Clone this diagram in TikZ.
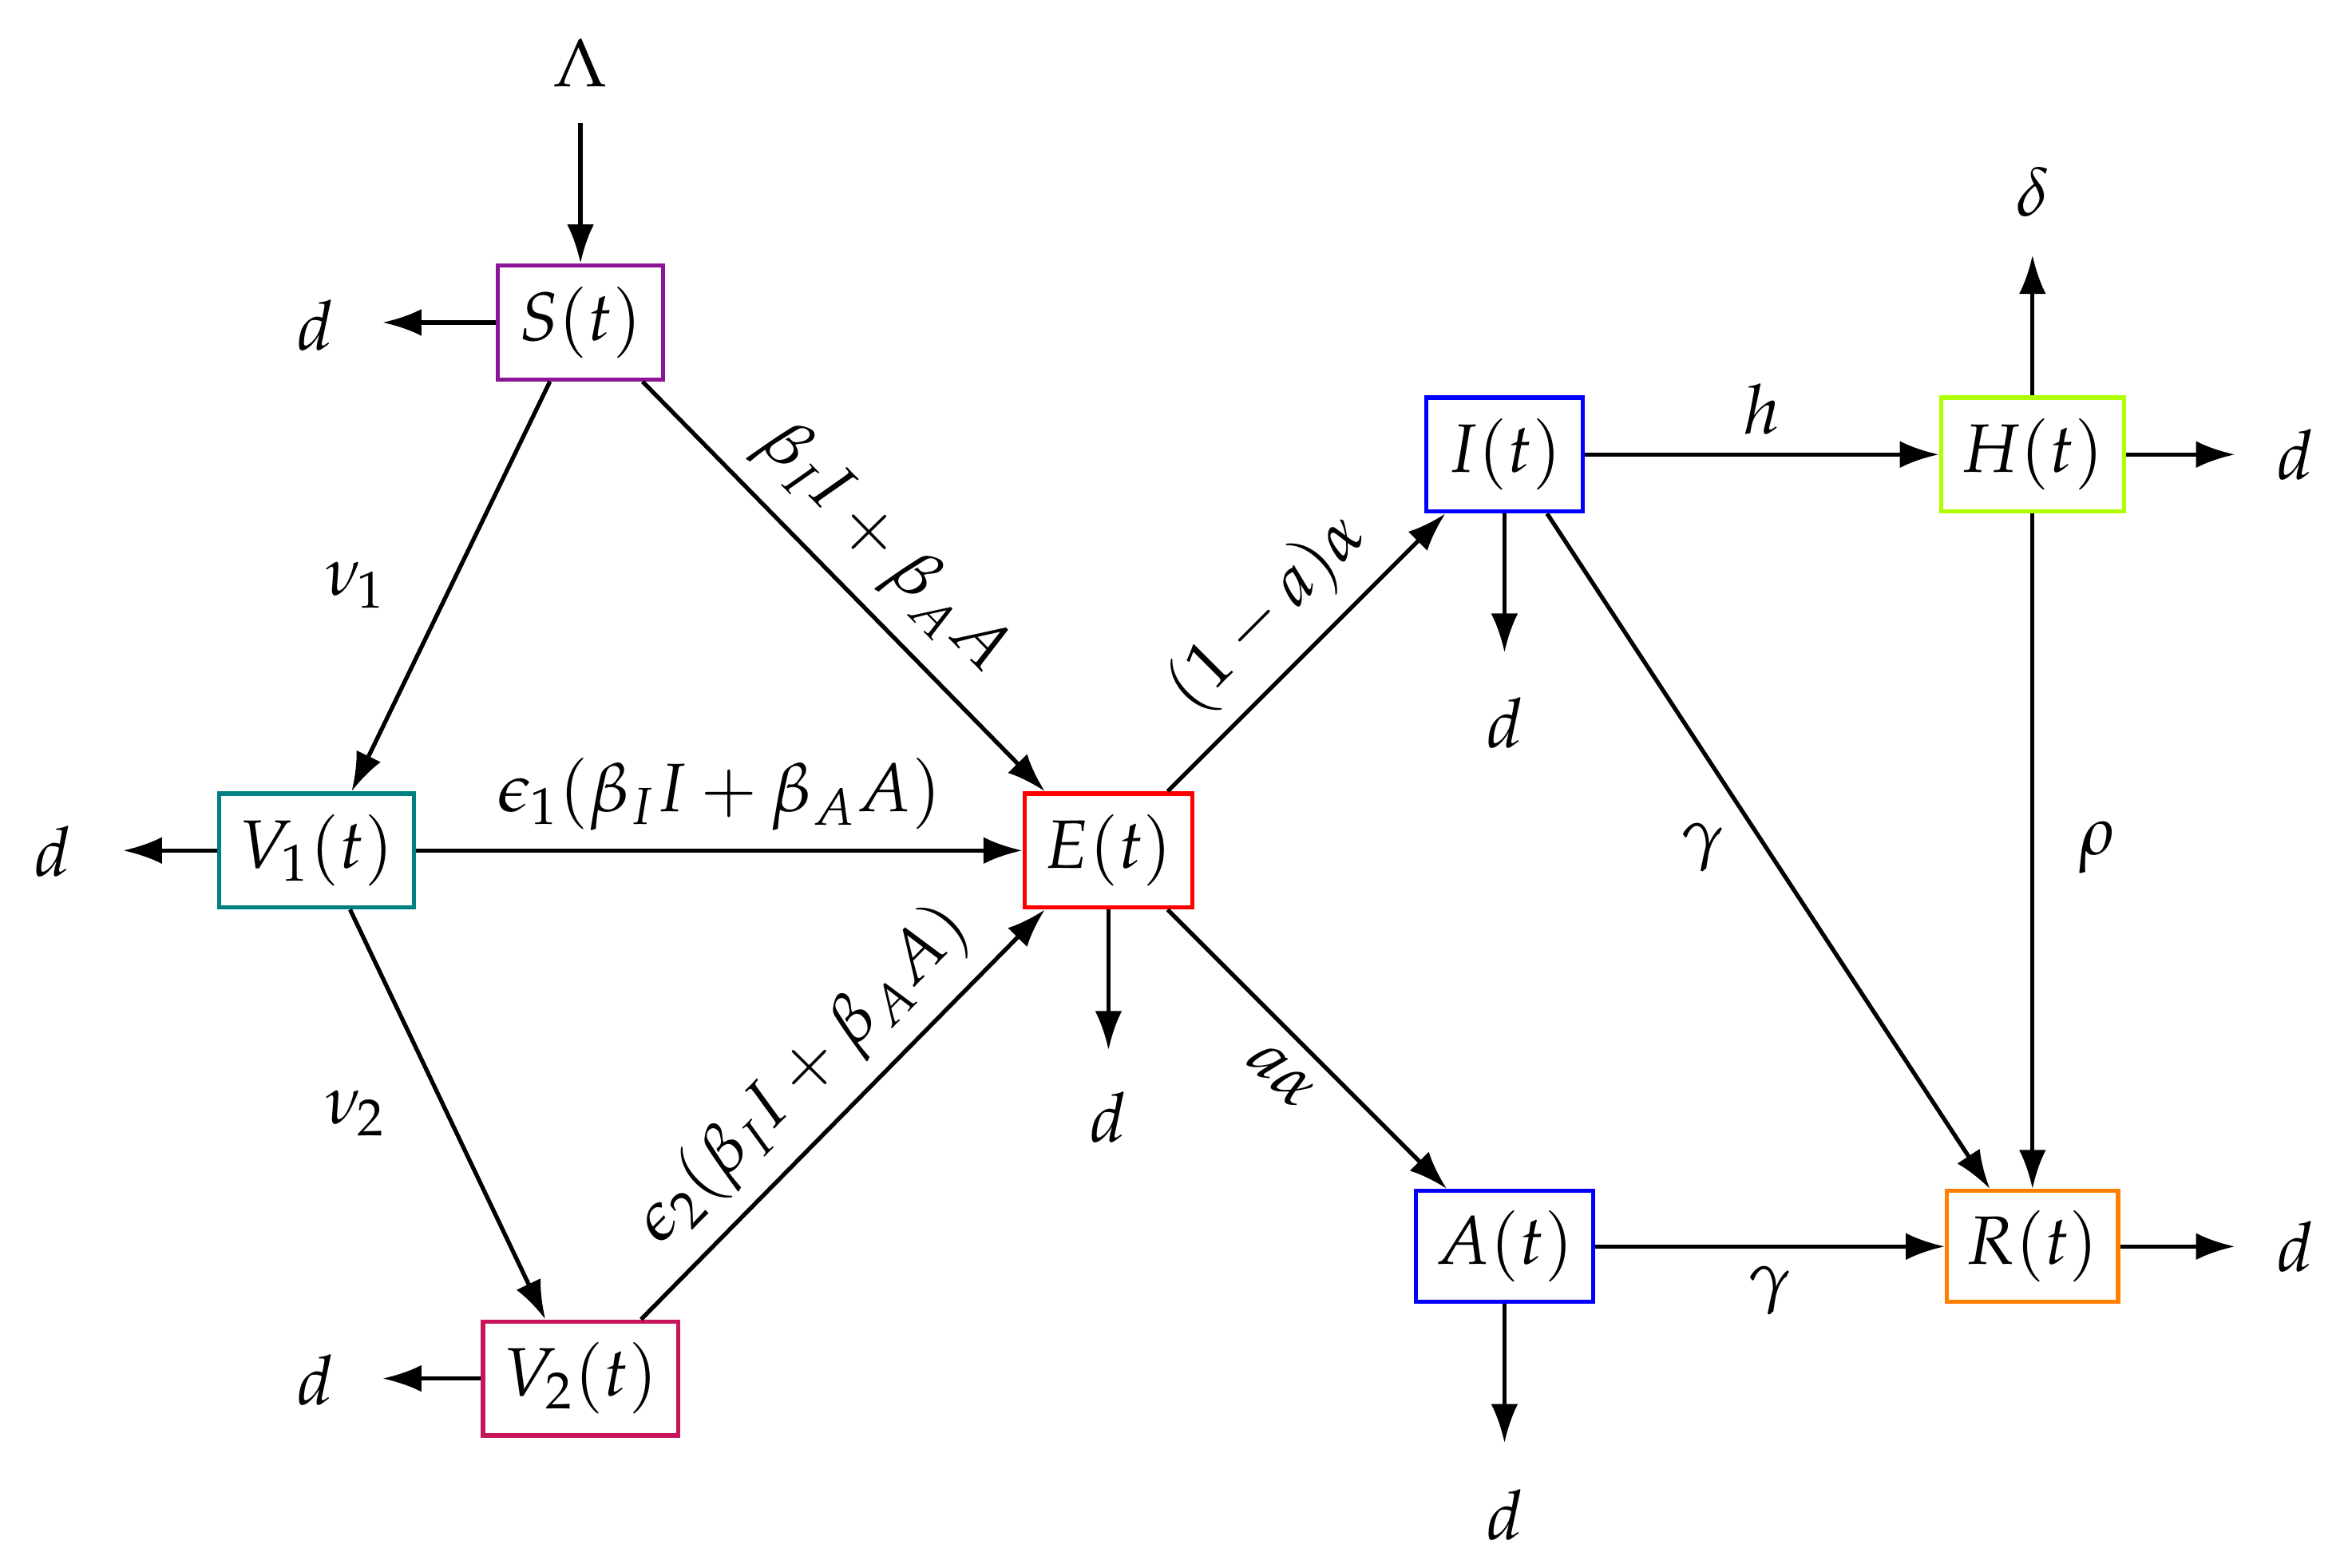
\documentclass[tikz,border=0pt]{standalone}
\usepackage{mathpazo}
\usetikzlibrary{arrows.meta}
\definecolor{cS}{RGB}{140,20,150}
\definecolor{cV1}{RGB}{0,128,128}
\definecolor{cV2}{RGB}{200,20,90}
\definecolor{cH}{RGB}{175,255,0}
\definecolor{cR}{RGB}{255,128,0}
\tikzset{box/.style={draw,thick,inner sep=0pt,minimum height=0.76cm,font=\fontsize{13}{15}\selectfont},
lab/.style={font=\fontsize{13}{15}\selectfont},
ar/.style={-{Latex[length=2.6mm,width=1.8mm]},thick}}
\begin{document}
\begin{tikzpicture}[x=0.1mm,y=-0.1mm]
\useasboundingbox (0,0) rectangle (1568,1045);
\node[box,cS,minimum width=1.10cm,text=black] (S) at (387,215) {$S(t)$};
\node[box,cV1,minimum width=1.30cm,text=black] (V1) at (211,567) {$V_1(t)$};
\node[box,cV2,minimum width=1.30cm,text=black] (V2) at (387,919) {$V_2(t)$};
\node[box,red,minimum width=1.12cm,text=black] (E) at (739,567) {$E(t)$};
\node[box,blue,minimum width=1.04cm,text=black] (I) at (1003,303) {$I(t)$};
\node[box,blue,minimum width=1.18cm,minimum height=0.74cm,text=black] (A) at (1003,831) {$A(t)$};
\node[box,cH,minimum width=1.22cm,text=black] (H) at (1355,303) {$H(t)$};
\node[box,cR,minimum width=1.14cm,minimum height=0.74cm,text=black] (R) at (1355,831) {$R(t)$};
% outer labels
\node[lab] (L) at (387,42) {$\Lambda$};
\coordinate (Ltop) at (387,82);
\draw[ar] (Ltop) -- (S);
\node[lab] (dS) at (210,217) {$d$}; \coordinate (dSa) at (255,215);
\draw[ar] (S) -- (dSa);
\node[lab] (dV1) at (35,568) {$d$}; \coordinate (dV1a) at (82,567);
\draw[ar] (V1) -- (dV1a);
\node[lab] (dV2) at (210,920) {$d$}; \coordinate (dV2a) at (255,919);
\draw[ar] (V2) -- (dV2a);
\node[lab] (dE) at (739,745) {$d$}; \coordinate (dEa) at (739,700);
\draw[ar] (E.south) -- (dEa);
\node[lab] (dI) at (1003,482) {$d$}; \coordinate (dIa) at (1003,435);
\draw[ar] (I.south) -- (dIa);
\node[lab] (dA) at (1003,1010) {$d$}; \coordinate (dAa) at (1003,962);
\draw[ar] (A.south) -- (dAa);
\node[lab] (del) at (1355,128) {$\delta$}; \coordinate (dela) at (1355,170);
\draw[ar] (H.north) -- (dela);
\node[lab] (dH) at (1530,303) {$d$}; \coordinate (dHa) at (1490,303);
\draw[ar] (H.east) -- (dHa);
\node[lab] (dR) at (1530,831) {$d$}; \coordinate (dRa) at (1490,831);
\draw[ar] (R.east) -- (dRa);
% transitions
\draw[ar] ([shift={(36,0)}]S.south west) -- ([shift={(-43,0)}]V1.north east);
\node[lab] at (237,390) {$\nu_1$};
\draw[ar] ([shift={(-15,0)}]S.south east) -- ([shift={(15,0)}]E.north west) node[midway,sloped,above,lab] {$\beta_I I+\beta_A A$};
\draw[ar] (V1) -- (E) node[midway,above,lab] {$\epsilon_1(\beta_I I+\beta_A A)$};
\draw[ar] ([shift={(-44,0)}]V1.south east) -- ([shift={(43,0)}]V2.north west);
\node[lab] at (237,742) {$\nu_2$};
\draw[ar] ([shift={(-26,0)}]V2.north east) -- ([shift={(15,0)}]E.south west) node[midway,sloped,above,lab] {$\epsilon_2(\beta_I I+\beta_A A)$};
\draw[ar] ([shift={(-18,0)}]E.north east) -- ([shift={(14,0)}]I.south west) node[midway,sloped,above,lab] {$(1-a)\alpha$};
\draw[ar] ([shift={(-18,0)}]E.south east) -- ([shift={(22,0)}]A.north west) node[midway,sloped,below,lab] {$a\alpha$};
\draw[ar] (I) -- (H) node[midway,above,lab] {$h$};
\draw[ar] ([shift={(-25,0)}]I.south east) -- ([shift={(30,0)}]R.north west);
\node[lab] at (1135,565) {$\gamma$};
\draw[ar] (H) -- (R);
\node[lab] at (1398,565) {$\rho$};
\draw[ar] (A) -- (R) node[midway,below,lab] {$\gamma$};
\end{tikzpicture}
\end{document}
